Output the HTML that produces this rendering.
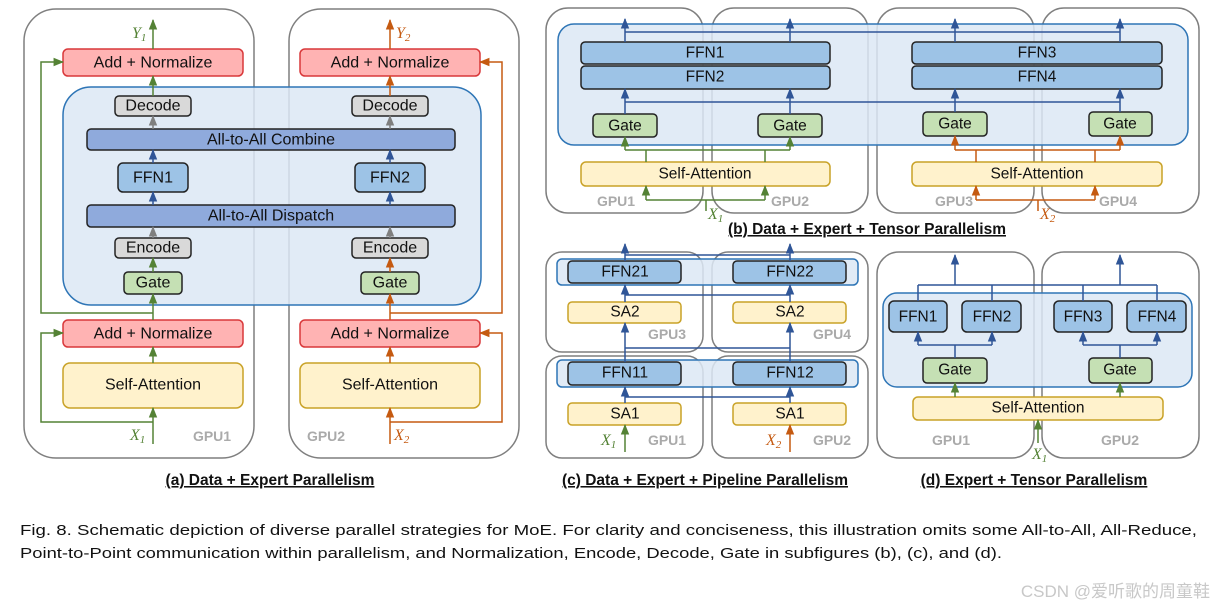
<!DOCTYPE html>
<html><head><meta charset="utf-8"><style>
html,body{margin:0;padding:0;background:#fff}
svg{display:block}
text{font-family:"Liberation Sans",sans-serif}
.bx{font-size:15.5px;fill:#111;text-anchor:middle;dominant-baseline:central}
.gpu{font-size:14px;fill:#aaa;font-weight:bold;text-anchor:middle}
.cap{font-size:15.5px;font-weight:bold;fill:#111;text-anchor:middle;text-decoration:underline}
.var{font-family:"Liberation Serif",serif;font-style:italic;font-size:16px}
</style></head><body>
<svg width="1215" height="610" viewBox="0 0 1215 610" xmlns="http://www.w3.org/2000/svg">
<defs>
<marker id="g" viewBox="0 0 10 10" refX="9" refY="5" markerWidth="7" markerHeight="7" orient="auto"><path d="M0,1L10,5L0,9z" fill="#548235"/></marker>
<marker id="o" viewBox="0 0 10 10" refX="9" refY="5" markerWidth="7" markerHeight="7" orient="auto"><path d="M0,1L10,5L0,9z" fill="#c55a11"/></marker>
<marker id="b" viewBox="0 0 10 10" refX="9" refY="5" markerWidth="7" markerHeight="7" orient="auto"><path d="M0,1L10,5L0,9z" fill="#2f5597"/></marker>
<marker id="k" viewBox="0 0 10 10" refX="9" refY="5" markerWidth="7" markerHeight="7" orient="auto"><path d="M0,1L10,5L0,9z" fill="#7f7f7f"/></marker>
</defs>

<!-- ============ (a) ============ -->
<g fill="none" stroke="#7f7f7f" stroke-width="1.5">
<rect x="24" y="9" width="230" height="449" rx="32"/>
<rect x="289" y="9" width="230" height="449" rx="32"/>
</g>
<rect x="63" y="87" width="418" height="218" rx="28" fill="#dce8f5" fill-opacity="0.85" stroke="#2e75b6" stroke-width="1.5"/>
<g stroke-width="1.5">
<rect x="63" y="49" width="180" height="27" rx="5" fill="#ffb3b3" stroke="#d9383a"/>
<rect x="300" y="49" width="180" height="27" rx="5" fill="#ffb3b3" stroke="#d9383a"/>
<rect x="115" y="96" width="76" height="20" rx="4" fill="#d9d9d9" stroke="#222"/>
<rect x="352" y="96" width="76" height="20" rx="4" fill="#d9d9d9" stroke="#222"/>
<rect x="87" y="129" width="368" height="21" rx="4" fill="#8faadc" stroke="#222"/>
<rect x="118" y="163" width="70" height="29" rx="5" fill="#9dc3e6" stroke="#222"/>
<rect x="355" y="163" width="70" height="29" rx="5" fill="#9dc3e6" stroke="#222"/>
<rect x="87" y="205" width="368" height="22" rx="4" fill="#8faadc" stroke="#222"/>
<rect x="115" y="238" width="76" height="20" rx="4" fill="#d9d9d9" stroke="#222"/>
<rect x="352" y="238" width="76" height="20" rx="4" fill="#d9d9d9" stroke="#222"/>
<rect x="124" y="272" width="58" height="22" rx="4" fill="#c5e0b4" stroke="#222"/>
<rect x="361" y="272" width="58" height="22" rx="4" fill="#c5e0b4" stroke="#222"/>
<rect x="63" y="320" width="180" height="27" rx="5" fill="#ffb3b3" stroke="#d9383a"/>
<rect x="300" y="320" width="180" height="27" rx="5" fill="#ffb3b3" stroke="#d9383a"/>
<rect x="63" y="363" width="180" height="45" rx="7" fill="#fff2cc" stroke="#c9a227"/>
<rect x="300" y="363" width="180" height="45" rx="7" fill="#fff2cc" stroke="#c9a227"/>
</g>
<g class="bx" style="font-size:16px">
<text x="153" y="63">Add + Normalize</text><text x="390" y="63">Add + Normalize</text>
<text x="153" y="106">Decode</text><text x="390" y="106">Decode</text>
<text x="271" y="140">All-to-All Combine</text>
<text x="153" y="178">FFN1</text><text x="390" y="178">FFN2</text>
<text x="271" y="216">All-to-All Dispatch</text>
<text x="153" y="248">Encode</text><text x="390" y="248">Encode</text>
<text x="153" y="283">Gate</text><text x="390" y="283">Gate</text>
<text x="153" y="334">Add + Normalize</text><text x="390" y="334">Add + Normalize</text>
<text x="153" y="385">Self-Attention</text><text x="390" y="385">Self-Attention</text>
</g>
<g fill="none" stroke-width="1.5">
<g stroke="#548235" marker-end="url(#g)">
<path d="M153 49V20"/><path d="M153 96V76"/><path d="M153 272V258"/><path d="M153 320V294"/><path d="M153 363V347"/><path d="M153 444V408"/>
<path d="M153 313H41V62H63"/><path d="M153 422H41V333H63"/>
</g>
<g stroke="#c55a11" marker-end="url(#o)">
<path d="M390 49V20"/><path d="M390 96V76"/><path d="M390 272V258"/><path d="M390 320V294"/><path d="M390 363V347"/><path d="M390 444V408"/>
<path d="M390 313H502V62H480"/><path d="M390 422H502V333H480"/>
</g>
<g stroke="#7f7f7f" marker-end="url(#k)">
<path d="M153 129V116"/><path d="M390 129V116"/><path d="M153 238V227"/><path d="M390 238V227"/>
</g>
<g stroke="#2f5597" marker-end="url(#b)">
<path d="M153 163V150"/><path d="M390 163V150"/><path d="M153 205V192"/><path d="M390 205V192"/>
</g>
</g>
<text class="var" x="132" y="38" fill="#548235">Y<tspan font-size="11" dy="3">1</tspan></text>
<text class="var" x="396" y="38" fill="#c55a11">Y<tspan font-size="11" dy="3">2</tspan></text>
<text class="var" x="130" y="440" fill="#548235">X<tspan font-size="11" dy="3">1</tspan></text>
<text class="var" x="394" y="440" fill="#c55a11">X<tspan font-size="11" dy="3">2</tspan></text>
<text class="gpu" x="212" y="441">GPU1</text><text class="gpu" x="326" y="441">GPU2</text>
<text class="cap" x="270" y="485">(a) Data + Expert Parallelism</text>

<!-- ============ (b) ============ -->
<g fill="none" stroke="#7f7f7f" stroke-width="1.5">
<rect x="546" y="8" width="157" height="205" rx="22"/>
<rect x="712" y="8" width="156" height="205" rx="22"/>
<rect x="877" y="8" width="157" height="205" rx="22"/>
<rect x="1042" y="8" width="157" height="205" rx="22"/>
</g>
<rect x="558" y="24" width="630" height="121" rx="16" fill="#dce8f5" fill-opacity="0.85" stroke="#2e75b6" stroke-width="1.5"/>
<g stroke="#222" stroke-width="1.5">
<rect x="581" y="42" width="249" height="22" rx="4" fill="#9dc3e6"/>
<rect x="581" y="66" width="249" height="23" rx="4" fill="#9dc3e6"/>
<rect x="912" y="42" width="250" height="22" rx="4" fill="#9dc3e6"/>
<rect x="912" y="66" width="250" height="23" rx="4" fill="#9dc3e6"/>
<rect x="593" y="114" width="64" height="23" rx="4" fill="#c5e0b4"/>
<rect x="758" y="114" width="64" height="23" rx="4" fill="#c5e0b4"/>
<rect x="923" y="112" width="64" height="24" rx="4" fill="#c5e0b4"/>
<rect x="1089" y="112" width="63" height="24" rx="4" fill="#c5e0b4"/>
</g>
<g stroke="#c9a227" stroke-width="1.5" fill="#fff2cc">
<rect x="581" y="162" width="249" height="24" rx="5"/>
<rect x="912" y="162" width="250" height="24" rx="5"/>
</g>
<g class="bx">
<text x="705" y="53">FFN1</text><text x="705" y="77">FFN2</text>
<text x="1037" y="53">FFN3</text><text x="1037" y="77">FFN4</text>
<text x="625" y="126">Gate</text><text x="790" y="126">Gate</text>
<text x="955" y="124">Gate</text><text x="1120" y="124">Gate</text>
<text x="705" y="174">Self-Attention</text><text x="1037" y="174">Self-Attention</text>
</g>
<g fill="none" stroke-width="1.5">
<g stroke="#2f5597">
<path d="M625 32H1120"/><path d="M625 42V32M790 42V32M955 42V32M1120 42V32"/>
<path d="M625 102H1120"/><path d="M625 114V102M790 114V102M955 112V102M1120 112V102"/>
</g>
<g stroke="#2f5597" marker-end="url(#b)">
<path d="M625 32V19"/><path d="M790 32V19"/><path d="M955 32V19"/><path d="M1120 32V19"/>
<path d="M625 102V89"/><path d="M790 102V89"/><path d="M955 102V89"/><path d="M1120 102V89"/>
</g>
<g stroke="#548235">
<path d="M625 150H790M646 162V150M765 162V150"/><path d="M646 200H765M706 200V211"/>
</g>
<g stroke="#548235" marker-end="url(#g)"><path d="M625 150V137"/><path d="M790 150V137"/><path d="M646 200V186"/><path d="M765 200V186"/></g>
<g stroke="#c55a11">
<path d="M955 150H1120M976 162V150M1095 162V150"/><path d="M976 200H1095M1038 200V211"/>
</g>
<g stroke="#c55a11" marker-end="url(#o)"><path d="M955 150V136"/><path d="M1120 150V136"/><path d="M976 200V186"/><path d="M1095 200V186"/></g>
</g>
<text class="gpu" x="616" y="206">GPU1</text><text class="gpu" x="790" y="206">GPU2</text>
<text class="gpu" x="954" y="206">GPU3</text><text class="gpu" x="1118" y="206">GPU4</text>
<text class="var" x="708" y="219" fill="#548235">X<tspan font-size="11" dy="3">1</tspan></text>
<text class="var" x="1040" y="219" fill="#c55a11">X<tspan font-size="11" dy="3">2</tspan></text>
<text class="cap" x="867" y="234">(b) Data + Expert + Tensor Parallelism</text>

<!-- ============ (c) ============ -->
<g fill="none" stroke="#7f7f7f" stroke-width="1.5">
<rect x="546" y="252" width="157" height="100" rx="16"/>
<rect x="712" y="252" width="156" height="100" rx="16"/>
<rect x="546" y="356" width="157" height="102" rx="16"/>
<rect x="712" y="356" width="156" height="102" rx="16"/>
</g>
<rect x="557" y="259" width="301" height="26" rx="5" fill="#dce8f5" fill-opacity="0.85" stroke="#2e75b6" stroke-width="1.5"/>
<rect x="557" y="360" width="301" height="27" rx="5" fill="#dce8f5" fill-opacity="0.85" stroke="#2e75b6" stroke-width="1.5"/>
<g stroke="#222" stroke-width="1.5" fill="#9dc3e6">
<rect x="568" y="261" width="113" height="22" rx="4"/><rect x="733" y="261" width="113" height="22" rx="4"/>
<rect x="568" y="362" width="113" height="23" rx="4"/><rect x="733" y="362" width="113" height="23" rx="4"/>
</g>
<g stroke="#c9a227" stroke-width="1.5" fill="#fff2cc">
<rect x="568" y="302" width="113" height="21" rx="4"/><rect x="733" y="302" width="113" height="21" rx="4"/>
<rect x="568" y="403" width="113" height="22" rx="4"/><rect x="733" y="403" width="113" height="22" rx="4"/>
</g>
<g class="bx">
<text x="625" y="272">FFN21</text><text x="790" y="272">FFN22</text>
<text x="625" y="312">SA2</text><text x="790" y="312">SA2</text>
<text x="625" y="373">FFN11</text><text x="790" y="373">FFN12</text>
<text x="625" y="414">SA1</text><text x="790" y="414">SA1</text>
</g>
<g fill="none" stroke-width="1.5">
<g stroke="#2f5597"><path d="M625 255H790M625 261V255M790 261V255"/><path d="M625 295H790M625 302V295M790 302V295"/><path d="M625 348H790M625 362V348M790 362V348"/><path d="M625 397H790M625 403V397M790 403V397"/></g>
<g stroke="#2f5597" marker-end="url(#b)">
<path d="M625 255V244"/><path d="M790 255V244"/><path d="M625 295V285"/><path d="M790 295V285"/>
<path d="M625 348V323"/><path d="M790 348V323"/><path d="M625 397V387"/><path d="M790 397V387"/>
</g>
<path d="M625 452V425" stroke="#548235" marker-end="url(#g)"/>
<path d="M790 452V425" stroke="#c55a11" marker-end="url(#o)"/>
</g>
<text class="gpu" x="667" y="339">GPU3</text><text class="gpu" x="832" y="339">GPU4</text>
<text class="gpu" x="667" y="445">GPU1</text><text class="gpu" x="832" y="445">GPU2</text>
<text class="var" x="601" y="445" fill="#548235">X<tspan font-size="11" dy="3">1</tspan></text>
<text class="var" x="766" y="445" fill="#c55a11">X<tspan font-size="11" dy="3">2</tspan></text>
<text class="cap" x="705" y="485">(c) Data + Expert + Pipeline Parallelism</text>

<!-- ============ (d) ============ -->
<g fill="none" stroke="#7f7f7f" stroke-width="1.5">
<rect x="877" y="252" width="157" height="206" rx="22"/>
<rect x="1042" y="252" width="157" height="206" rx="22"/>
</g>
<rect x="883" y="293" width="309" height="94" rx="14" fill="#dce8f5" fill-opacity="0.85" stroke="#2e75b6" stroke-width="1.5"/>
<g stroke="#222" stroke-width="1.5" fill="#9dc3e6">
<rect x="889" y="301" width="58" height="31" rx="5"/><rect x="962" y="301" width="59" height="31" rx="5"/>
<rect x="1054" y="301" width="58" height="31" rx="5"/><rect x="1127" y="301" width="59" height="31" rx="5"/>
</g>
<g stroke="#222" stroke-width="1.5" fill="#c5e0b4">
<rect x="923" y="358" width="64" height="25" rx="4"/><rect x="1089" y="358" width="63" height="25" rx="4"/>
</g>
<rect x="913" y="397" width="250" height="23" rx="5" fill="#fff2cc" stroke="#c9a227" stroke-width="1.5"/>
<g class="bx">
<text x="918" y="317">FFN1</text><text x="992" y="317">FFN2</text><text x="1083" y="317">FFN3</text><text x="1157" y="317">FFN4</text>
<text x="955" y="370">Gate</text><text x="1120" y="370">Gate</text>
<text x="1038" y="408">Self-Attention</text>
</g>
<g fill="none" stroke-width="1.5">
<g stroke="#2f5597"><path d="M918 285H1157M918 301V285M992 301V285M1083 301V285M1157 301V285"/>
<path d="M918 345H992M955 358V345M1083 345H1157M1120 358V345"/></g>
<g stroke="#2f5597" marker-end="url(#b)"><path d="M955 285V255"/><path d="M1120 285V255"/>
<path d="M918 345V332"/><path d="M992 345V332"/><path d="M1083 345V332"/><path d="M1157 345V332"/></g>
<g stroke="#548235" marker-end="url(#g)"><path d="M955 397V383"/><path d="M1120 397V383"/><path d="M1038 443V420"/></g>
</g>
<text class="gpu" x="951" y="445">GPU1</text><text class="gpu" x="1120" y="445">GPU2</text>
<text class="var" x="1032" y="459" fill="#548235">X<tspan font-size="11" dy="3">1</tspan></text>
<text class="cap" x="1034" y="485">(d) Expert + Tensor Parallelism</text>

<!-- caption -->
<text x="20" y="535" font-size="15" fill="#111" textLength="1177" lengthAdjust="spacingAndGlyphs">Fig. 8. Schematic depiction of diverse parallel strategies for MoE. For clarity and conciseness, this illustration omits some All-to-All, All-Reduce,</text>
<text x="20" y="558" font-size="15" fill="#111" textLength="982" lengthAdjust="spacingAndGlyphs">Point-to-Point communication within parallelism, and Normalization, Encode, Decode, Gate in subfigures (b), (c), and (d).</text>
<text x="1210" y="597" font-size="17" fill="#c8c8c8" text-anchor="end" style="font-family:'Liberation Sans','Noto Sans CJK SC',sans-serif">CSDN @爱听歌的周童鞋</text>
</svg>
</body></html>
